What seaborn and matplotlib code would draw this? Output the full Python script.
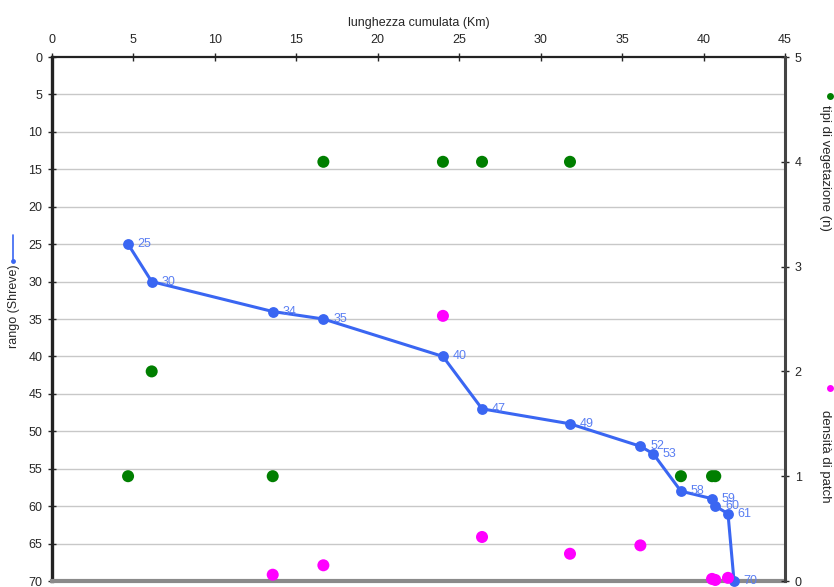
import matplotlib
matplotlib.use("Agg")
import matplotlib.pyplot as plt
from matplotlib.lines import Line2D
import seaborn as sns
import pandas as pd

sns.set_style("white")
plt.rcParams["font.family"] = ["Liberation Sans", "DejaVu Sans"]
plt.rcParams["font.size"] = 9

# Shreve order along the cumulated river length
km_rango = [4.67, 6.12, 13.55, 16.66, 24.0, 26.4, 31.8, 36.12, 36.91, 38.61, 40.52, 40.72, 41.5, 41.87]
rango = [25, 30, 34, 35, 40, 47, 49, 52, 53, 58, 59, 60, 61, 70]

# Number of vegetation types
km_veg = [16.66, 24.0, 26.4, 31.8, 6.12, 4.67, 13.55, 38.61, 40.52, 40.72]
tipi_veg = [4, 4, 4, 4, 2, 1, 1, 1, 1, 1]

# Patch density
km_patch = [24.0, 26.4, 31.8, 36.12, 13.55, 16.66, 40.52, 40.72, 41.5]
densita_patch = [2.53, 0.42, 0.26, 0.34, 0.06, 0.15, 0.02, 0.01, 0.03]

x_ticks = [0, 5, 10, 15, 20, 25, 30, 35, 40, 45]
y_ticks = [0, 5, 10, 15, 20, 25, 30, 35, 40, 45, 50, 55, 60, 65, 70]
y2_ticks = [0, 1, 2, 3, 4, 5]

BLUE = "#3a66f2"
LABEL_BLUE = "#5a7ef2"
GREEN = "#007f00"
MAGENTA = "#ff00ff"

df_r = pd.DataFrame({"km": km_rango, "rango": rango})
df_v = pd.DataFrame({"km": km_veg, "tipi": tipi_veg})
df_p = pd.DataFrame({"km": km_patch, "dens": densita_patch})

fig = plt.figure(figsize=(8.34, 5.87), dpi=100)
ax = fig.add_axes([52 / 834, 6 / 587, (785 - 52) / 834, (581 - 57) / 587])

sns.lineplot(data=df_r, x="km", y="rango", ax=ax, color=BLUE, linewidth=2.2,
             marker="o", markersize=7.8, markeredgewidth=0, sort=False,
             clip_on=False, zorder=4)
for xv, yv in zip(km_rango, rango):
    ax.annotate(str(yv), (xv, yv), xytext=(7, 0), textcoords="offset points",
                color=LABEL_BLUE, fontsize=9, va="center", ha="left",
                annotation_clip=False, zorder=5)

ax.set_xlim(0, 45)
ax.set_ylim(70, 0)
ax.set_xticks(x_ticks)
ax.set_yticks(y_ticks)
ax.xaxis.tick_top()
ax.xaxis.set_label_position("top")
ax.set_xlabel("lunghezza cumulata (Km)", fontsize=9, labelpad=6)
ax.set_ylabel("")
ax.tick_params(axis="x", direction="inout", length=6, width=1, pad=5, labelsize=9)
ax.tick_params(axis="y", direction="inout", length=6, width=1, pad=4, labelsize=9)
for yv in y_ticks[1:-1]:
    ax.axhline(yv, color="#c8c8c8", linewidth=1, zorder=0)

ax.spines["left"].set_linewidth(2.4)
ax.spines["left"].set_color("#222222")
ax.spines["top"].set_linewidth(1.6)
ax.spines["top"].set_color("#222222")
ax.spines["bottom"].set_linewidth(3)
ax.spines["bottom"].set_color("#8a8a8a")
ax.spines["right"].set_visible(False)

ax2 = ax.twinx()
sns.scatterplot(data=df_v, x="km", y="tipi", ax=ax2, color=GREEN, s=75,
                edgecolor="none", clip_on=False, zorder=6)
sns.scatterplot(data=df_p, x="km", y="dens", ax=ax2, color=MAGENTA, s=75,
                edgecolor="none", clip_on=False, zorder=6)
ax2.set_ylim(0, 5)
ax2.set_yticks(y2_ticks)
ax2.set_ylabel("")
ax2.tick_params(axis="y", direction="inout", length=6, width=1, pad=4, labelsize=9)
for s in ["left", "top", "bottom"]:
    ax2.spines[s].set_visible(False)
ax2.spines["right"].set_linewidth(2.2)
ax2.spines["right"].set_color("#444444")

# Axis titles with their series keys
fig.text(14 / 834, 1 - 306 / 587, "rango (Shreve)", rotation=90,
         ha="center", va="center", fontsize=9)
fig.add_artist(Line2D([13 / 834, 13 / 834], [1 - 235 / 587, 1 - 261 / 587],
                      color=BLUE, linewidth=1.2, transform=fig.transFigure))
fig.add_artist(Line2D([13 / 834], [1 - 261 / 587], color=BLUE, marker="o",
                      markersize=3.5, markeredgewidth=0, transform=fig.transFigure))

fig.text(825 / 834, 1 - 168 / 587, "tipi di vegetazione (n)", rotation=-90,
         ha="center", va="center", fontsize=9.5)
fig.add_artist(Line2D([830 / 834], [1 - 96 / 587], color=GREEN, marker="o",
                      markersize=5, markeredgewidth=0, transform=fig.transFigure))

fig.text(825 / 834, 1 - 456 / 587, "densità di patch", rotation=-90,
         ha="center", va="center", fontsize=9.5)
fig.add_artist(Line2D([830 / 834], [1 - 388 / 587], color=MAGENTA, marker="o",
                      markersize=5, markeredgewidth=0, transform=fig.transFigure))

fig.savefig("out.png", dpi=100)
